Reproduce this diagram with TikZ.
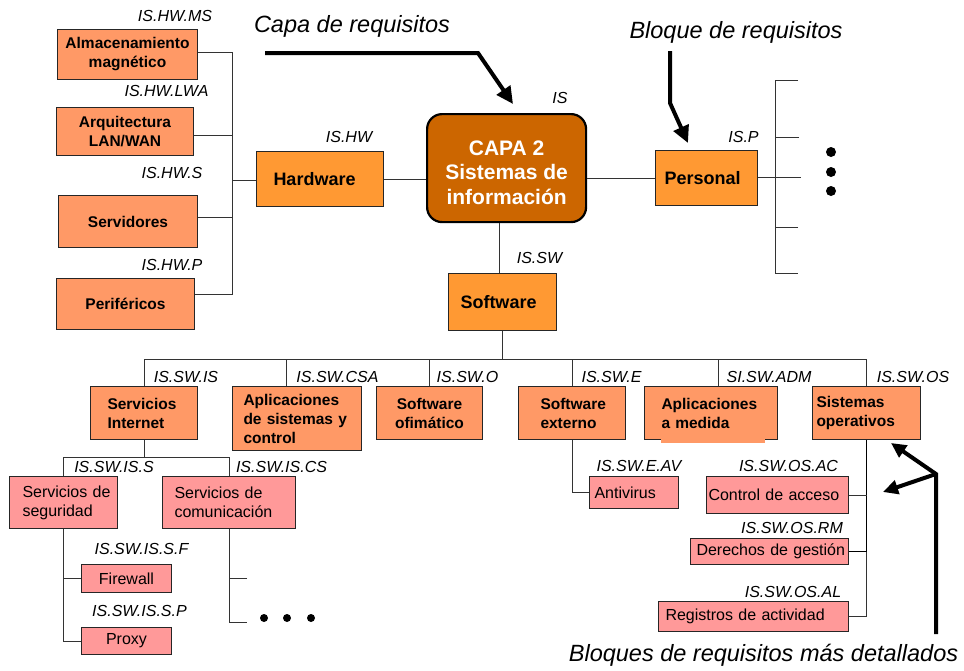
\documentclass[tikz,border=0pt]{standalone}
\usepackage{fontspec}
\setmainfont{Liberation Sans}
\usetikzlibrary{arrows.meta}
\definecolor{capafill}{HTML}{CC6600}
\definecolor{topfill}{HTML}{FF9933}
\definecolor{midfill}{HTML}{FF9966}
\definecolor{subfill}{HTML}{FF9999}

\begin{document}
\begin{tikzpicture}[x=1pt,y=-1pt,
  box/.style={draw=black!85, line width=1pt, anchor=north west, inner xsep=0pt, inner ysep=0pt},
  topbox/.style={box, fill=topfill, font=\bfseries\fontsize{18}{22}\selectfont, align=left},
  midbox/.style={box, fill=midfill, font=\bfseries\fontsize{15.5}{19}\selectfont},
  subbox/.style={box, fill=subfill, font=\fontsize{16}{19}\selectfont},
  tag/.style={font=\itshape\fontsize{16}{19}\selectfont, inner sep=0pt},
  note/.style={font=\itshape\fontsize{23.5}{28}\selectfont, inner sep=0pt},
  link/.style={draw=black!80, line width=0.9pt},
  pointer/.style={line width=4pt, -{Triangle[length=17pt,width=16pt]}},
  smallpointer/.style={line width=4pt, -{Triangle[length=15pt,width=14pt]}},
  ]
\fill[white] (0,0) rectangle (964,670);
\useasboundingbox (0,0) rectangle (964,670);

% ---- layer and top-level blocks
\node[draw=black, line width=2.2pt, rounded corners=15pt, fill=capafill, text=white,
      font=\bfseries\fontsize{21}{24.5}\selectfont,
      minimum width=159pt, minimum height=108pt, anchor=north west, inner sep=0pt]
      (cap) at (426,113)
      {\parbox[c][108pt][c]{159pt}{\centering\vspace*{9pt}CAPA 2\\Sistemas de\\información}};
\node[topbox, minimum width=127pt, minimum height=55pt, text width=93pt] (hw) at (256,151) {Hardware};
\node[topbox, minimum width=102pt, minimum height=55pt, text width=84pt] (per) at (655,150) {Personal};
\node[topbox, minimum width=108pt, minimum height=57pt, text width=84pt] (sw) at (448,273) {Software};

% ---- hardware blocks
\node[midbox, align=center, minimum width=140pt, minimum height=50pt] (ms) at (57,29) {Almacenamiento\\magnético};
\node[midbox, align=center, minimum width=137pt, minimum height=48pt] (lwa) at (56,107) {Arquitectura\\LAN/WAN};
\node[midbox, align=center, minimum width=139pt, minimum height=52pt] (srv) at (58,195) {Servidores};
\node[midbox, align=center, minimum width=138pt, minimum height=51pt] (peri) at (56,278) {Periféricos};

% ---- software blocks
\node[midbox, align=left, minimum width=107pt, minimum height=53pt, text width=73pt] (si) at (90,386) {Servicios\\Internet};
\node[midbox, align=left, minimum width=129pt, minimum height=64pt, text width=107pt] (asc) at (232,386) {Aplicaciones\\de~sistemas~y\\control};
\node[midbox, align=center, minimum width=106pt, minimum height=53pt] (ofi) at (376,386) {Software\\ofimático};
\node[midbox, align=left, minimum width=107pt, minimum height=53pt, text width=63pt] (ext) at (518,386) {Software\\externo};
\node[midbox, align=left, minimum width=133pt, minimum height=53pt, text width=99pt] (med) at (644,386) {Aplicaciones\\a~medida};
\fill[midfill] (661,438) rectangle (765,443);
\node[midbox, align=left, minimum width=108pt, minimum height=53pt, text width=100pt] (so) at (812,386) {Sistemas\\operativos};

% ---- detailed blocks
\node[subbox, align=left, minimum width=108pt, minimum height=52pt, text width=82pt] (sseg) at (9,476) {Servicios~de\\seguridad};
\node[subbox, align=left, minimum width=133pt, minimum height=52pt, text width=109pt] (scom) at (162,476) {Servicios~de\\comunicación};
\node[subbox, align=center, minimum width=90pt, minimum height=28pt] (fw) at (81,564) {Firewall};
\node[subbox, align=center, minimum width=90pt, minimum height=27pt] (px) at (81,627) {Proxy};
\node[subbox, align=left, minimum width=89pt, minimum height=32pt, text width=79pt] (av) at (589,476) {Antivirus};
\node[subbox, align=left, minimum width=142pt, minimum height=37pt, text width=138pt] (ac) at (706,476) {Control~de~acceso};
\node[subbox, align=left, minimum width=158pt, minimum height=26pt, text width=146pt] (dg) at (690,538) {Derechos~de~gestión};
\node[subbox, align=left, minimum width=190pt, minimum height=30pt, text width=176pt] (ra) at (658,601) {Registros~de~actividad};

% ---- identifiers
\node[tag] (tis)    at (560,98)    {IS};
\node[tag] (thw)    at (349,137)   {IS.HW};
\node[tag] (tp)     at (743.5,137) {IS.P};
\node[tag] (tsw)    at (539.5,258) {IS.SW};
\node[tag] (tms)    at (175,16)    {IS.HW.MS};
\node[tag] (tlwa)   at (166.5,91)  {IS.HW.LWA};
\node[tag] (ts)     at (172,173)   {IS.HW.S};
\node[tag] (thp)    at (172,265)   {IS.HW.P};
\node[tag] (tsi)    at (186,377)   {IS.SW.IS};
\node[tag] (tcsa)   at (337.5,377) {IS.SW.CSA};
\node[tag] (to)     at (467.5,377) {IS.SW.O};
\node[tag] (te)     at (611.5,377) {IS.SW.E};
\node[tag] (tadm)   at (769,377)   {SI.SW.ADM};
\node[tag] (tos)    at (913,377)   {IS.SW.OS};
\node[tag] (tiss)   at (114,467)   {IS.SW.IS.S};
\node[tag] (tiscs)  at (281.5,467) {IS.SW.IS.CS};
\node[tag] (tissf)  at (141.5,549) {IS.SW.IS.S.F};
\node[tag] (tissp)  at (139.5,611) {IS.SW.IS.S.P};
\node[tag] (teav)   at (639,466)   {IS.SW.E.AV};
\node[tag] (tosac)  at (788.5,466) {IS.SW.OS.AC};
\node[tag] (tosrm)  at (792,528)   {IS.SW.OS.RM};
\node[tag] (tosal)  at (793,592)   {IS.SW.OS.AL};

% ---- annotations
\node[note] (ncapa)   at (352,26)    {Capa de requisitos};
\node[note] (nbloque) at (736,32)    {Bloque de requisitos};
\node[note] (nbloqs)  at (763.5,655) {Bloques de requisitos más detallados};

% ---- hardware branch
\coordinate (hwbus) at (232,0);
\coordinate (yms) at (0,52);
\coordinate (ylwa) at (0,135);
\coordinate (yhw) at (0,180);
\coordinate (ysrv) at (0,217);
\coordinate (yper) at (0,294);
\draw[link] (ms.east |- yms) -- (hwbus |- yms) -- (hwbus |- yper) -- (peri.east |- yper);
\draw[link] (lwa.east |- ylwa) -- (hwbus |- ylwa);
\draw[link] (srv.east |- ysrv) -- (hwbus |- ysrv);
\draw[link] (hw.west |- yhw) -- (hwbus |- yhw);
\draw[link] (hw.east) -- (hw.east -| cap.west);

% ---- personal branch
\draw[link] (cap.east |- per.west) -- (per.west);
\coordinate (pbus) at (775,0);
\coordinate (pt1) at (798,80);
\coordinate (pt2) at (799,137);
\coordinate (pt3) at (801,177);
\coordinate (pt4) at (798,227);
\coordinate (pt5) at (798,273);
\draw[link] (pt1) -- (pbus |- pt1) -- (pbus |- pt5) -- (pt5);
\draw[link] (pt2) -- (pbus |- pt2);
\draw[link] (pt4) -- (pbus |- pt4);
\draw[link] (per.east |- pt3) -- (pt3);
\foreach \yy in {152,172,191} \fill (831,\yy) circle[radius=5pt];

% ---- software branch
\coordinate (xsw) at (499,0);
\draw[link] (xsw |- cap.south) -- (xsw |- sw.north);
\coordinate (swbus) at (0,359);
\coordinate (xasc) at (286,0);
\coordinate (xmed) at (718,0);
\draw[link] (sw.south) -- (sw.south |- swbus);
\draw[link] (si.north |- swbus) -- (so.north |- swbus);
\draw[link] (si.north |- swbus) -- (si.north);
\draw[link] (xasc |- swbus) -- (xasc |- asc.north);
\draw[link] (ofi.north |- swbus) -- (ofi.north);
\draw[link] (ext.north |- swbus) -- (ext.north);
\draw[link] (xmed |- swbus) -- (xmed |- med.north);
\draw[link] (so.north |- swbus) -- (so.north);

% ---- internet services
\coordinate (sibus) at (0,457);
\draw[link] (si.south) -- (si.south |- sibus);
\draw[link] (sseg.north |- sibus) -- (scom.north |- sibus);
\draw[link] (sseg.north |- sibus) -- (sseg.north);
\draw[link] (scom.north |- sibus) -- (scom.north);
\draw[link] (sseg.south) |- (fw.west);
\draw[link] (sseg.south) |- (px.west);
\coordinate (cm1) at (247,578);
\coordinate (cm2) at (247,622);
\draw[link] (scom.south) |- (cm2);
\draw[link] (cm1) -- (scom.south |- cm1);
\foreach \xx in {264,287,311} \fill (\xx,618) circle[radius=4pt];

% ---- external software and operating systems
\draw[link] (ext.south) |- (av.west);
\draw[link] (so.south) |- (ra.east);
\draw[link, line width=1.6pt, draw=black] (so.south) |- (dg.east);
\draw[link] (ac.east) -- (ac.east -| so.south);

% ---- pointers
\coordinate (a1s) at (265,53);
\coordinate (a1m) at (478,53);
\coordinate (a1e) at (513,104);
\draw[pointer] (a1s) -- (a1m) -- (a1e);
\coordinate (a2s) at (670,51);
\coordinate (a2m) at (670,103);
\coordinate (a2e) at (688,143);
\draw[pointer] (a2s) -- (a2m) -- (a2e);
\coordinate (a3s) at (936,634);
\coordinate (a3m) at (936,474);
\coordinate (a3e) at (891,443);
\coordinate (a3f) at (883,492);
\draw[smallpointer] (a3s) -- (a3m) -- (a3e);
\draw[smallpointer] (a3m) -- (a3f);
\end{tikzpicture}
\end{document}
